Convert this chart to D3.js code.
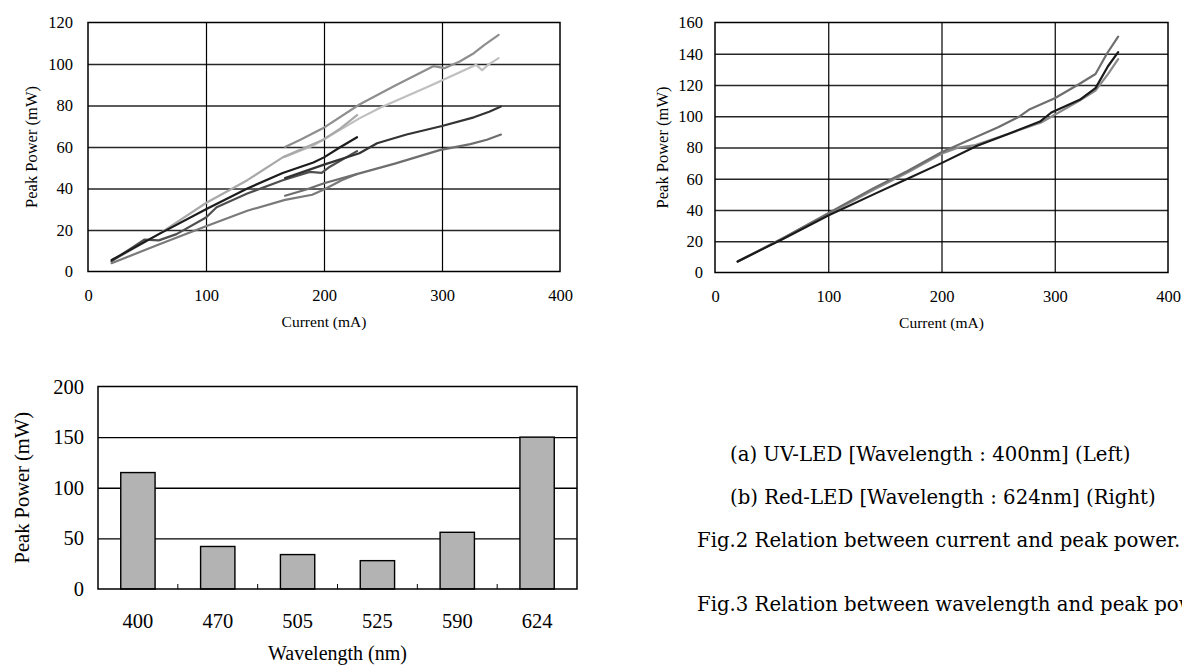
<!doctype html>
<html>
<head>
<meta charset="utf-8">
<script src="https://cdn.jsdelivr.net/npm/d3@7"></script>
<style>
body{margin:0;background:#fff;}
svg{display:block;}
</style>
</head>
<body>
<script>
// (a) UV-LED 400nm : current (mA) vs peak power (mW)
var uvS1 = [[20,5],[60,18],[100,33],[135,44],[165,55],[199,63.4],[214,69],[228,75.4]];
var uvS2 = [[20,5.5],[60,18],[100,30],[135,40],[165,47.5],[191,52.5],[200,55],[214,60],[228,64.7]];
var uvS3 = [[20,5],[48,15.4],[60,15],[75,18],[100,26],[109,31],[135,37.6],[165,44],[188,48],[198,47.5],[205,50.5],[228,58]];
var uvS4 = [[20,4],[60,13],[100,21.8],[135,29.3],[167,34.5],[190,37],[200,39.5],[215,44],[228,47]];
var uvS5 = [[167,60],[180,63.5],[199,69],[230,80.5],[260,89.5],[293,99],[302,98],[315,101.2],[327,105.2],[336,109.2],[348,114]];
var uvS6 = [[167,55.3],[190,60.5],[199,63.4],[230,73.8],[248,79],[290,89.5],[329,99.6],[334,97],[339,99.6],[348,102.8]];
var uvS7 = [[167,45],[200,51.5],[230,57],[245,61.8],[270,66],[300,70.1],[327,74.3],[340,77],[350,79.5]];
var uvS8 = [[167,36.5],[185,39.5],[200,42.5],[230,47.3],[260,52],[298,58.5],[324,61.4],[338,63.5],[350,66]];

// (b) Red-LED 624nm
var redS1 = [[20,7],[60,22],[100,38],[140,54],[170,65],[200,77],[225,85],[250,93],[268,99.5],[278,104.5],[300,111.5],[322,120.8],[336,127],[346,140],[356,151]];
var redS2 = [[20,7],[60,21.5],[100,36.5],[140,50],[170,60],[200,70],[231,81],[260,89],[287,96.6],[297,102.4],[322,110.5],[336,118],[347,132],[356,141]];
var redS3 = [[20,7],[60,22],[100,37.5],[140,53],[170,64],[200,76],[215,80],[230,81.5],[260,89],[288,96],[300,101],[322,110],[336,116.5],[347,127],[356,136.5]];

// Fig.3 wavelength vs peak power
var wavelengths = ["400","470","505","525","590","624"];
var peakPower = [115, 42, 34, 28, 56, 150];

var currentTicks = [0,100,200,300,400];
var uvTicks = [0,20,40,60,80,100,120];
var redTicks = [0,20,40,60,80,100,120,140,160];
var barTicks = [0,50,100,150,200];

var captions = [
  "(a) UV-LED [Wavelength : 400nm] (Left)",
  "(b) Red-LED [Wavelength : 624nm] (Right)",
  "Fig.2 Relation between current and peak power.",
  "Fig.3 Relation between wavelength and peak power."
];

var serif = "'Liberation Serif', serif";

var svg = d3.select("body").append("svg")
    .attr("width", 1182)
    .attr("height", 667);

function lineChart(box, yMax, yTicks, series, opt){
  var x = d3.scaleLinear().domain([0,400]).range([box.l, box.r]);
  var y = d3.scaleLinear().domain([0,yMax]).range([box.b, box.t]);
  var g = svg.append("g");
  var w = box.r - box.l, h = box.b - box.t;

  // horizontal grid
  g.append("g").attr("transform","translate("+box.l+",0)")
    .call(d3.axisLeft(y).tickValues(yTicks.slice(1,-1)).tickSize(-w).tickFormat(""))
    .call(function(a){ a.select(".domain").remove(); a.selectAll("line").attr("stroke","#262626").attr("stroke-width",1.6); });
  // vertical grid
  g.append("g").attr("transform","translate(0,"+box.b+")")
    .call(d3.axisBottom(x).tickValues(currentTicks.slice(1,-1)).tickSize(-h).tickFormat(""))
    .call(function(a){ a.select(".domain").remove(); a.selectAll("line").attr("stroke","#000").attr("stroke-width",1.2); });

  g.append("rect").attr("x",box.l).attr("y",box.t).attr("width",w).attr("height",h)
    .attr("fill","none").attr("stroke","#000").attr("stroke-width",1.5);

  var line = d3.line().x(function(d){return x(d[0]);}).y(function(d){return y(d[1]);});
  series.forEach(function(s){
    g.append("path").datum(s.data).attr("d",line)
      .attr("fill","none").attr("stroke",s.color).attr("stroke-width",2.2)
      .attr("stroke-linejoin","round").attr("stroke-linecap","round");
  });

  // tick labels
  g.append("g").attr("transform","translate("+box.l+",0)")
    .call(d3.axisLeft(y).tickValues(yTicks).tickSize(0).tickPadding(opt.yPad))
    .call(function(a){ a.select(".domain").remove(); a.attr("font-family",null).attr("font-size",null);
      a.selectAll("text").attr("font-family",serif).attr("font-size",16.5).attr("fill","#000"); });
  g.append("g").attr("transform","translate(0,"+box.b+")")
    .call(d3.axisBottom(x).tickValues(currentTicks).tickSize(0).tickPadding(18))
    .call(function(a){ a.select(".domain").remove(); a.attr("font-family",null).attr("font-size",null);
      a.selectAll("text").attr("font-family",serif).attr("font-size",16.5).attr("fill","#000"); });

  g.append("text").attr("x",(box.l+box.r)/2).attr("y",box.b+55)
    .attr("text-anchor","middle").attr("font-family",serif).attr("font-size",15.5)
    .text("Current (mA)");
  g.append("text").attr("transform","translate("+opt.titleX+","+((box.t+box.b)/2)+") rotate(-90)")
    .attr("text-anchor","middle").attr("font-family",serif).attr("font-size",16.5)
    .text("Peak Power (mW)");
}

lineChart({l:88,r:560,t:22.5,b:271.5}, 120, uvTicks, [
  {data:uvS6,color:"#bfbfbf"},
  {data:uvS5,color:"#8e8e8e"},
  {data:uvS1,color:"#a9a9a9"},
  {data:uvS4,color:"#7a7a7a"},
  {data:uvS8,color:"#6e6e6e"},
  {data:uvS3,color:"#4f4f4f"},
  {data:uvS7,color:"#333"},
  {data:uvS2,color:"#1c1c1c"}
], {titleX:37, yPad:15});

lineChart({l:715,r:1168,t:22.5,b:272.5}, 160, redTicks, [
  {data:redS3,color:"#8a8a8a"},
  {data:redS1,color:"#6e6e6e"},
  {data:redS2,color:"#1a1a1a"}
], {titleX:668, yPad:12});

// bar chart
(function(){
  var box = {l:98,r:577,t:386.5,b:589};
  var x = d3.scaleBand().domain(wavelengths).range([box.l, box.r]);
  var y = d3.scaleLinear().domain([0,200]).range([box.b, box.t]);
  var g = svg.append("g");
  var w = box.r-box.l;

  g.append("g").attr("transform","translate("+box.l+",0)")
    .call(d3.axisLeft(y).tickValues(barTicks.slice(1,-1)).tickSize(-w).tickFormat(""))
    .call(function(a){ a.select(".domain").remove(); a.selectAll("line").attr("stroke","#000").attr("stroke-width",1.4); });

  var bw = x.bandwidth()*0.43;
  g.selectAll("rect.bar").data(peakPower).enter().append("rect")
    .attr("class","bar")
    .attr("x",function(d,i){return x(wavelengths[i]) + (x.bandwidth()-bw)/2;})
    .attr("y",function(d){return y(d);})
    .attr("width",bw)
    .attr("height",function(d){return box.b - y(d);})
    .attr("fill","#b3b3b3").attr("stroke","#000").attr("stroke-width",1.4);

  // inner tick marks between categories
  g.selectAll("line.sep").data(wavelengths.slice(1)).enter().append("line")
    .attr("x1",function(d){return x(d);}).attr("x2",function(d){return x(d);})
    .attr("y1",box.b).attr("y2",box.b-5)
    .attr("stroke","#000").attr("stroke-width",1);

  g.append("rect").attr("x",box.l).attr("y",box.t).attr("width",w).attr("height",box.b-box.t)
    .attr("fill","none").attr("stroke","#000").attr("stroke-width",1.5);

  g.append("g").attr("transform","translate("+box.l+",0)")
    .call(d3.axisLeft(y).tickValues(barTicks).tickSize(0).tickPadding(14))
    .call(function(a){ a.select(".domain").remove(); a.attr("font-family",null).attr("font-size",null);
      a.selectAll("text").attr("font-family",serif).attr("font-size",20.5).attr("fill","#000"); });
  g.append("g").attr("transform","translate(0,"+box.b+")")
    .call(d3.axisBottom(x).tickSize(0).tickPadding(24))
    .call(function(a){ a.select(".domain").remove(); a.attr("font-family",null).attr("font-size",null);
      a.selectAll("text").attr("font-family",serif).attr("font-size",20.5).attr("fill","#000"); });

  g.append("text").attr("x",(box.l+box.r)/2).attr("y",660)
    .attr("text-anchor","middle").attr("font-family",serif).attr("font-size",20)
    .text("Wavelength (nm)");
  g.append("text").attr("transform","translate(29,"+((box.t+box.b)/2)+") rotate(-90)")
    .attr("text-anchor","middle").attr("font-family",serif).attr("font-size",20.5)
    .text("Peak Power (mW)");
})();

// captions (the Fig.3 line runs past the right edge, as in the original)
var capFont = "'DejaVu Serif', serif";
var capPos = [[730,461],[730,504],[697,547],[697,611]];
svg.selectAll("text.cap").data(captions).enter().append("text")
  .attr("class","cap")
  .attr("x",function(d,i){return capPos[i][0];})
  .attr("y",function(d,i){return capPos[i][1];})
  .attr("font-family",capFont).attr("font-size",19.7).attr("fill","#000")
  .text(function(d){return d;});
</script>
</body>
</html>
